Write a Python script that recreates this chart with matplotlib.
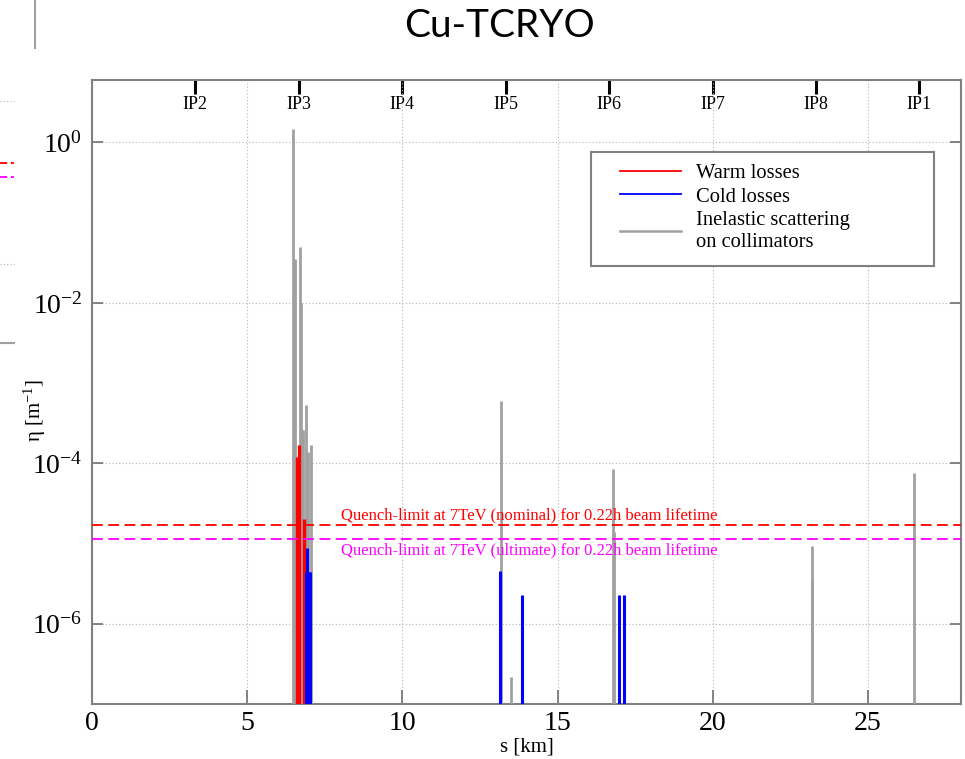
import matplotlib
matplotlib.use("Agg")
import matplotlib.pyplot as plt
from matplotlib.lines import Line2D
from matplotlib.patches import Rectangle

plt.rcParams["font.family"] = "Liberation Serif"
plt.rcParams["mathtext.fontset"] = "custom"
plt.rcParams["mathtext.rm"] = "Liberation Serif"
plt.rcParams["mathtext.it"] = "Liberation Serif:italic"

# loss positions s [km] and local cleaning inefficiency eta [1/m]
s_inel = [6.49, 6.53, 6.70, 6.73, 6.77, 6.81, 6.90, 6.96, 7.07,
          13.18, 13.49, 16.80, 16.81, 23.19, 23.20, 26.50]
eta_inel = [1.45, 0.035, 0.05, 0.01, 2.6e-4, 2.6e-4, 5.4e-4, 1.4e-4, 1.7e-4,
            5.9e-4, 2.2e-7, 8.6e-5, 1.4e-5, 9.4e-6, 3.5e-6, 7.6e-5]

s_warm = [6.62, 6.64, 6.67, 6.83]
eta_warm = [1.2e-4, 6.0e-5, 1.7e-4, 2.0e-5]

s_cold = [6.90, 6.94, 6.98, 7.02, 13.15, 13.85, 16.98, 17.13]
eta_cold = [4.4e-6, 8.8e-6, 4.4e-6, 4.4e-6, 4.5e-6, 2.3e-6, 2.3e-6, 2.3e-6]

# quench limits
quench_nominal = 1.7e-5
quench_ultimate = 1.15e-5

# interaction points
ip_names = ["IP2", "IP3", "IP4", "IP5", "IP6", "IP7", "IP8", "IP1"]
ip_s = [3.332, 6.664, 9.997, 13.329, 16.661, 19.994, 23.315, 26.659]

x_ticks = [0, 5, 10, 15, 20, 25]
y_ticks = [1e0, 1e-2, 1e-4, 1e-6]
y_labels = [r"$10^{0}$", r"$10^{-2}$", r"$10^{-4}$", r"$10^{-6}$"]

ymin, ymax = 1e-7, 6.0
fig = plt.figure(figsize=(9.65, 7.59), dpi=100)
ax = fig.add_axes([0.0953, 0.0725, 0.9006, 0.8221])

ax.set_yscale("log")
ax.set_xlim(0, 28.0)
ax.set_ylim(ymin, ymax)

ax.grid(True, which="major", color="#b5b5b5", linestyle=(0, (1, 2)), linewidth=0.8)
ax.set_axisbelow(True)

ax.vlines(s_inel, ymin, eta_inel, color="#a0a0a0", linewidth=2.0, zorder=3)
ax.vlines(s_warm, ymin, eta_warm, color="#ff0000", linewidth=2.4, zorder=4)
ax.vlines(s_cold, ymin, eta_cold, color="#0000ff", linewidth=2.2, zorder=5)

ax.axhline(quench_nominal, color="#ff0000", linestyle=(0, (6, 3)), linewidth=1.3, zorder=6)
ax.axhline(quench_ultimate, color="#ff00ff", linestyle=(0, (6, 3)), linewidth=1.3, zorder=6)
ax.text(14.08, quench_nominal * 1.04, "Quench-limit at 7TeV (nominal) for 0.22h beam lifetime",
        color="#ff0000", fontsize=12, ha="center", va="bottom")
ax.text(14.08, quench_ultimate / 1.12, "Quench-limit at 7TeV (ultimate) for 0.22h beam lifetime",
        color="#ff00ff", fontsize=12, ha="center", va="top")

ax.set_xticks(x_ticks)
ax.set_yticks(y_ticks)
ax.set_yticklabels(y_labels)
ax.minorticks_off()
ax.tick_params(axis="both", direction="in", colors="#707070", labelcolor="black", width=1.2)
ax.tick_params(axis="x", length=10, labelsize=20, pad=5)
ax.tick_params(axis="y", length=8, labelsize=20, pad=7, right=True)

for sp in ax.spines.values():
    sp.set_color("#808080")
    sp.set_linewidth(1.5)

ax.set_xlabel("s [km]", fontsize=15, labelpad=1)
ax.set_ylabel(r"η [m$^{-1}$]", fontsize=15)
ax.yaxis.set_label_coords(-0.051, 0.471)

# IP markers along the top edge
top = ax.secondary_xaxis("top")
top.set_xticks(ip_s, labels=ip_names)
top.tick_params(direction="in", length=10, width=2.2, color="black", labelsize=13, pad=-24)
top.spines["top"].set_visible(False)

# legend with a plain grey frame
handles = [Line2D([], [], color="#ff0000", linewidth=1.3),
           Line2D([], [], color="#0000ff", linewidth=1.3),
           Line2D([], [], color="#a0a0a0", linewidth=1.8)]
labels = ["Warm losses", "Cold losses", "Inelastic scattering\non collimators"]
ax.add_patch(Rectangle((0.574, 0.702), 0.395, 0.183, transform=ax.transAxes,
                       facecolor="white", edgecolor="#808080", linewidth=1.5, zorder=7))
leg = ax.legend(handles, labels, loc="upper left", bbox_to_anchor=(0.586, 0.896),
                frameon=False, fontsize=14.8, handlelength=3.0, handletextpad=0.7,
                labelspacing=0.22)
leg.set_zorder(8)

# title
fig.text(0.518, 0.966, "Cu-TCRYO", fontsize=28, family="Lato", ha="center", va="center")

# edge of the neighbouring panel on the left
def fig_line(x0, y0, x1, y1, **kw):
    W, H = 965.0, 759.0
    fig.add_artist(Line2D([x0 / W, x1 / W], [1 - y0 / H, 1 - y1 / H],
                          transform=fig.transFigure, **kw))

fig_line(35, 0, 35, 48, color="#a0a0a0", linewidth=1.5)
fig_line(0, 101, 14, 101, color="#b5b5b5", linewidth=0.8, linestyle=(0, (1, 2)))
fig_line(0, 163, 14, 163, color="#ff0000", linewidth=1.3, linestyle=(0, (4, 2)))
fig_line(0, 177, 14, 177, color="#ff00ff", linewidth=1.3, linestyle=(0, (4, 2)))
fig_line(0, 264, 14, 264, color="#b5b5b5", linewidth=0.8, linestyle=(0, (1, 2)))
fig_line(0, 343, 14, 343, color="#a0a0a0", linewidth=1.5)

fig.savefig("out.png", dpi=100)
